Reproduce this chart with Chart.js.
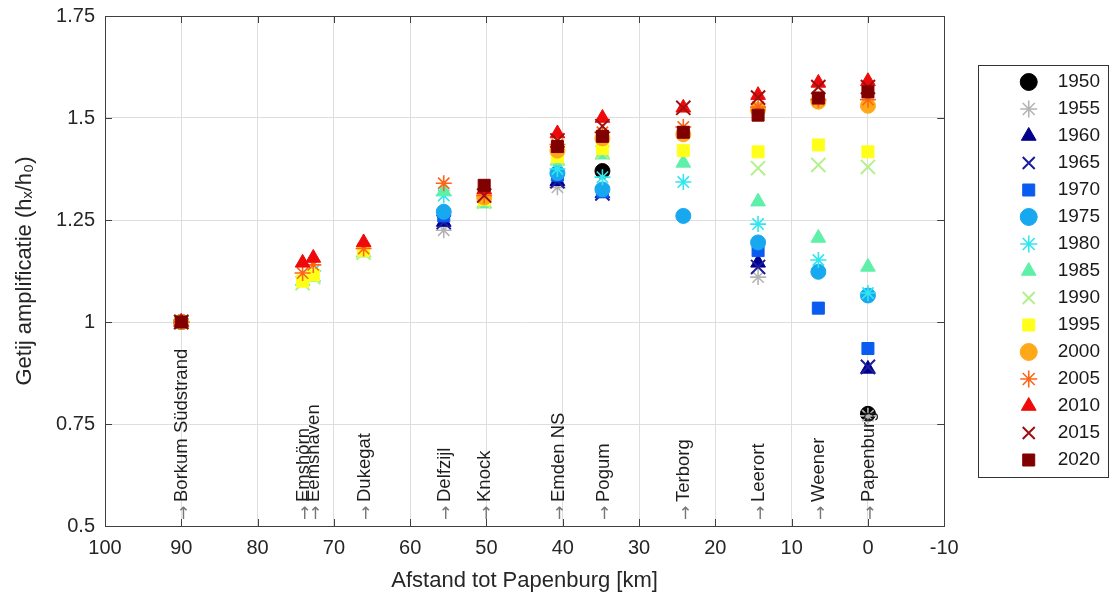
<!DOCTYPE html>
<html>
<head>
  <meta charset="UTF-8" />
  <title>Getij amplificatie Eems</title>
  <script src="https://cdn.jsdelivr.net/npm/chart.js@4.4.1/dist/chart.umd.min.js"></script>
  <style>
    body { margin: 0; background: #fff; }
    .wrap { width: 1114px; height: 597px; }
  </style>
</head>
<body>
  <div class="wrap"><canvas id="canvas"></canvas></div>
  <script>
    // stations along the Eems, distance to Papenburg in km
    const stations = ['Borkum Südstrand', 'Emshörn', 'Eemshaven', 'Dukegat', 'Delfzijl', 'Knock',
                      'Emden NS', 'Pogum', 'Terborg', 'Leerort', 'Weener', 'Papenburg'];
    const stationKm = [90, 74.1, 72.7, 66.1, 55.6, 50.3, 40.7, 34.8, 24.2, 14.4, 6.5, 0];

    const years = ['1950', '1955', '1960', '1965', '1970', '1975', '1980', '1985',
                   '1990', '1995', '2000', '2005', '2010', '2015', '2020'];

    // tidal amplification h_x/h_0 per station (null = no data)
    const amp1950 = [1.0, null, null, null, null, null, null, 1.37, null, null, null, 0.775];
    const amp1955 = [1.0, null, null, null, 1.225, null, 1.33, null, null, 1.11, null, 0.77];
    const amp1960 = [1.0, null, null, null, 1.245, null, 1.345, 1.315, null, 1.145, null, 0.885];
    const amp1965 = [1.0, null, null, null, 1.245, null, 1.345, 1.315, null, 1.135, null, 0.89];
    const amp1970 = [1.0, null, null, null, 1.26, null, 1.36, 1.32, null, 1.175, 1.034, 0.935];
    const amp1975 = [1.0, null, null, null, 1.27, null, 1.365, 1.325, 1.26, 1.195, 1.123, 1.065];
    const amp1980 = [1.0, null, 1.125, null, 1.31, null, 1.375, 1.355, 1.343, 1.24, 1.152, 1.071];
    const amp1985 = [1.0, 1.10, 1.11, 1.17, 1.32, 1.29, 1.395, 1.41, 1.39, 1.295, 1.206, 1.135];
    const amp1990 = [1.0, 1.095, 1.11, 1.17, null, 1.295, 1.40, 1.415, null, 1.377, 1.385, 1.38];
    const amp1995 = [1.0, 1.10, 1.115, 1.175, null, 1.30, 1.405, 1.425, 1.42, 1.417, 1.434, 1.417];
    const amp2000 = [1.0, null, null, null, null, 1.305, 1.42, 1.45, 1.46, 1.52, 1.54, 1.53];
    const amp2005 = [1.0, 1.12, 1.14, 1.18, 1.34, 1.31, 1.435, 1.465, 1.478, 1.527, 1.545, 1.545];
    const amp2010 = [1.0, 1.145, 1.157, 1.195, null, 1.325, 1.462, 1.50, 1.525, 1.556, 1.586, 1.59];
    const amp2015 = [1.0, null, null, null, null, 1.31, 1.445, 1.48, 1.525, 1.55, 1.576, 1.576];
    const amp2020 = [1.0, null, null, null, null, 1.335, 1.43, 1.455, 1.465, 1.507, 1.549, 1.564];

    const series = [amp1950, amp1955, amp1960, amp1965, amp1970, amp1975, amp1980, amp1985,
                    amp1990, amp1995, amp2000, amp2005, amp2010, amp2015, amp2020];

    const xTicks = { min: -10, max: 100, step: 10 };
    const yTicks = { min: 0.5, max: 1.75, step: 0.25 };

    const colors = ['#000000', '#b4b4b4', '#00008b', '#1c1ca0', '#0a5cf0', '#18a8f0', '#30e6f0', '#5ef0a8',
                    '#b4f08c', '#ffff1a', '#ffa81a', '#ff6414', '#ee0a0a', '#a01010', '#800000'];
    const styles = ['circle', 'star', 'triangle', 'crossRot', 'rect'];
    const radius = { circle: 7.5, star: 8, triangle: 8.5, crossRot: 10, rect: 8.5 };
    const lineW = { circle: 1, star: 1.6, triangle: 1, crossRot: 2, rect: 1 };

    Chart.defaults.font.family = '"Liberation Sans", Arial, sans-serif';
    Chart.defaults.color = '#262626';

    const datasets = years.map((yr, i) => {
      const st = styles[i % 5];
      return {
        label: yr,
        data: stationKm.map((km, j) => ({ x: km, y: series[i][j] })).filter(p => p.y !== null),
        pointStyle: st,
        pointRadius: radius[st],
        pointHoverRadius: radius[st],
        borderWidth: lineW[st],
        pointBorderWidth: lineW[st],
        borderColor: colors[i],
        backgroundColor: colors[i],
        showLine: false,
        order: years.length - i   // later years on top
      };
    });

    // box around the axes with inward tick marks, and frame round the legend
    const boxPlugin = {
      id: 'box',
      afterDraw(chart) {
        const { ctx, chartArea: a, scales: { x, y } } = chart;
        ctx.save();
        ctx.strokeStyle = '#404040';
        ctx.lineWidth = 1;
        ctx.strokeRect(Math.round(a.left) + 0.5, Math.round(a.top) + 0.5,
                       Math.round(a.right - a.left), Math.round(a.bottom - a.top));
        ctx.beginPath();
        x.ticks.forEach(t => {
          const px = Math.round(x.getPixelForValue(t.value)) + 0.5;
          ctx.moveTo(px, a.bottom); ctx.lineTo(px, a.bottom - 7);
          ctx.moveTo(px, a.top); ctx.lineTo(px, a.top + 7);
        });
        y.ticks.forEach(t => {
          const py = Math.round(y.getPixelForValue(t.value)) + 0.5;
          ctx.moveTo(a.left, py); ctx.lineTo(a.left + 7, py);
          ctx.moveTo(a.right, py); ctx.lineTo(a.right - 7, py);
        });
        ctx.stroke();

        const lg = chart.legend;
        const hb = lg.legendHitBoxes;
        if (hb && hb.length) {
          const first = hb[0], last = hb[hb.length - 1];
          const top = first.top + first.height / 2 - 17;
          const bottom = last.top + last.height / 2 + 17;
          ctx.strokeStyle = '#333';
          ctx.strokeRect(Math.round(lg.right - 122) + 0.5, Math.round(top) + 0.5,
                         130, Math.round(bottom - top));
        }
        ctx.restore();
      }
    };

    // station names with arrows along the bottom of the plot
    const stationPlugin = {
      id: 'stations',
      afterDatasetsDraw(chart) {
        const { ctx, chartArea: a, scales: { x } } = chart;
        ctx.save();
        stations.forEach((name, i) => {
          const px = x.getPixelForValue(stationKm[i]);
          ctx.fillStyle = '#777';
          ctx.font = '17px "DejaVu Sans", sans-serif';
          ctx.textAlign = 'center';
          ctx.textBaseline = 'middle';
          ctx.fillText('↑', px + 2, a.bottom - 11);
          ctx.save();
          ctx.translate(px + 1, a.bottom - 24);
          ctx.rotate(-Math.PI / 2);
          ctx.fillStyle = '#1e1e1e';
          ctx.font = '18.5px "Liberation Sans", Arial, sans-serif';
          ctx.textAlign = 'left';
          ctx.textBaseline = 'middle';
          ctx.fillText(name, 0, 0);
          ctx.restore();
        });
        ctx.restore();
      }
    };

    new Chart(document.getElementById('canvas').getContext('2d'), {
      type: 'scatter',
      data: { datasets: datasets },
      options: {
        responsive: true,
        maintainAspectRatio: false,
        animation: false,
        layout: { padding: { left: 0, right: 14, top: 16, bottom: 0 } },
        plugins: {
          tooltip: { enabled: false },
          legend: {
            position: 'right',
            fullSize: false,
            labels: {
              usePointStyle: true,
              boxHeight: 12,
              padding: 8,
              textAlign: 'right',
              color: '#1a1a1a',
              font: { size: 19 },
              sort: (a, b) => a.datasetIndex - b.datasetIndex
            }
          }
        },
        scales: {
          x: {
            type: 'linear',
            reverse: true,
            min: xTicks.min,
            max: xTicks.max,
            ticks: { stepSize: xTicks.step, font: { size: 20 }, padding: 10, callback: v => String(v) },
            grid: { color: '#dedede', drawTicks: false },
            border: { display: false },
            title: { display: true, text: 'Afstand tot Papenburg [km]', font: { size: 22 }, padding: { top: 0, bottom: 3 } },
            afterFit: s => { s.height = 71; s.paddingLeft = 0; s.paddingRight = 0; }
          },
          y: {
            type: 'linear',
            min: yTicks.min,
            max: yTicks.max,
            ticks: { stepSize: yTicks.step, font: { size: 20 }, padding: 10, callback: v => String(v) },
            grid: { color: '#dedede', drawTicks: false },
            border: { display: false },
            title: { display: true, text: 'Getij amplificatie (hₓ/h₀)', font: { size: 22 }, padding: { top: 12, bottom: 0 } },
            afterFit: s => { s.width = 105; s.paddingTop = 0; s.paddingBottom = 0; }
          },
          y2: {
            type: 'linear',
            position: 'right',
            ticks: { display: false },
            grid: { display: false },
            border: { display: false },
            afterFit: s => { s.width = 67; s.paddingTop = 0; s.paddingBottom = 0; }
          }
        }
      },
      plugins: [stationPlugin, boxPlugin]
    });
  </script>
</body>
</html>
